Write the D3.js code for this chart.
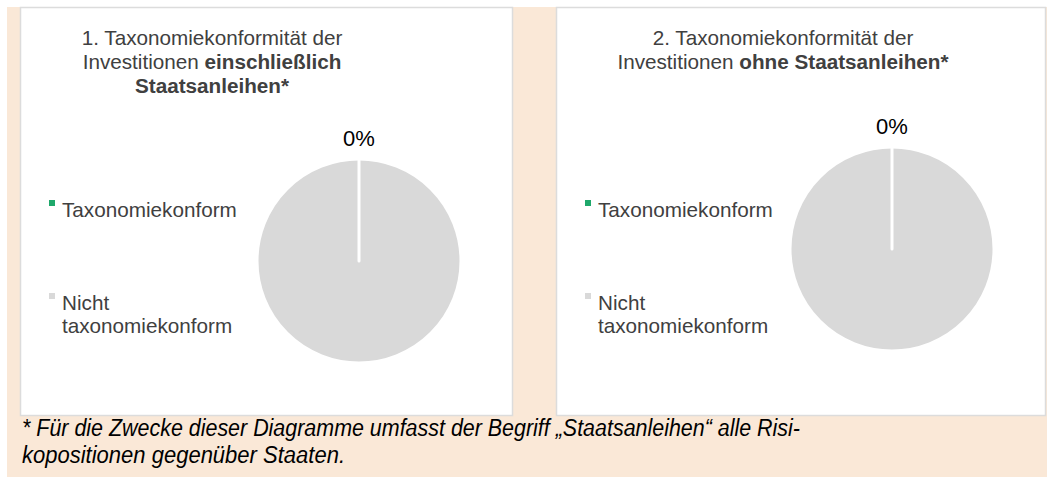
<!DOCTYPE html>
<html>
<head>
<meta charset="utf-8">
<script src="https://cdn.jsdelivr.net/npm/d3@7"></script>
<style>
  body { margin: 0; background: #fff; }
  text { font-family: "Liberation Sans", Arial, sans-serif; fill: #404040; }
</style>
</head>
<body>
<div id="chart"></div>
<script>
// categories and values for both pies
var categories = ["Taxonomiekonform", "Nicht taxonomiekonform"];
var legendLines = [["Taxonomiekonform"], ["Nicht", "taxonomiekonform"]];
var colors = ["#1FA86B", "#D9D9D9"];
var valuesIncl = [0, 100];   // einschließlich Staatsanleihen
var valuesExcl = [0, 100];   // ohne Staatsanleihen
var pctLabels = ["0%", "0%"];

// title lines, [text, bold?]
var titleIncl = [
  [["1. Taxonomiekonformität der", false]],
  [["Investitionen ", false], ["einschließlich", true]],
  [["Staatsanleihen*", true]]
];
var titleExcl = [
  [["2. Taxonomiekonformität der", false]],
  [["Investitionen ", false], ["ohne Staatsanleihen*", true]]
];
var footnote = [
  "* Für die Zwecke dieser Diagramme umfasst der Begriff \u201EStaatsanleihen\u201C alle Risi-",
  "kopositionen gegenüber Staaten."
];
var footnoteWidth = [778, 323];

var width = 1047, height = 477;

var svg = d3.select("#chart").append("svg")
    .attr("width", width)
    .attr("height", height);

// peach background
svg.append("rect")
    .attr("x", 7).attr("y", 7)
    .attr("width", width - 7).attr("height", height - 7)
    .attr("fill", "#FAE8D7");

var panels = [
  { x: 20, w: 492, values: valuesIncl, title: titleIncl, titleX: 192, cx: 339, cy: 261, label: pctLabels[0] },
  { x: 556, w: 489, values: valuesExcl, title: titleExcl, titleX: 227, cy: 249, cx: 336, label: pctLabels[1] }
];

var radius = 102;
var pie = d3.pie().sort(null).value(function(d) { return d; });
var arc = d3.arc().innerRadius(0).outerRadius(radius);
var labelArc = d3.arc().innerRadius(radius + 13).outerRadius(radius + 13);

panels.forEach(function(p) {
  var g = svg.append("g").attr("transform", "translate(" + p.x + ",7)");

  g.append("rect")
      .attr("x", 0.5).attr("y", 0.5)
      .attr("width", p.w).attr("height", 408)
      .attr("fill", "#fff")
      .attr("stroke", "#DCDCDC")
      .attr("stroke-width", 1.5);

  // title
  var t = g.append("text")
      .attr("text-anchor", "middle")
      .style("font-size", "20.7px");
  p.title.forEach(function(line, i) {
    line.forEach(function(part, j) {
      var ts = t.append("tspan")
          .text(part[0])
          .style("font-weight", part[1] ? "bold" : "normal");
      if (j == 0) ts.attr("x", p.titleX).attr("y", 38 + i * 24);
    });
  });

  // pie, zero slice drawn last so its white edge shows
  var slices = pie(p.values);
  var pg = g.append("g").attr("transform", "translate(" + p.cx + "," + (p.cy - 7) + ")");
  pg.selectAll("path")
      .data(slices.slice().reverse())
    .enter().append("path")
      .attr("d", arc)
      .attr("fill", function(d) { return colors[d.index]; })
      .attr("stroke", "#fff")
      .attr("stroke-width", 3)
      .attr("stroke-linejoin", "round");

  pg.append("text")
      .attr("transform", "translate(" + labelArc.centroid(slices[0]) + ")")
      .attr("text-anchor", "middle")
      .style("font-size", "22px")
      .style("fill", "#000")
      .text(p.label);

  // legend
  var legendY = [203, 296];
  categories.forEach(function(c, i) {
    g.append("rect")
        .attr("x", 29).attr("y", legendY[i] - 10)
        .attr("width", 6).attr("height", 6)
        .attr("fill", colors[i]);
    var lt = g.append("text").style("font-size", "20.7px");
    legendLines[i].forEach(function(l, k) {
      lt.append("tspan").attr("x", 42).attr("y", legendY[i] + 7 + k * 23).text(l);
    });
  });
});

// footnote
svg.selectAll(".foot")
    .data(footnote)
  .enter().append("text")
    .attr("class", "foot")
    .attr("x", 22)
    .attr("y", function(d, i) { return 436 + i * 27; })
    .attr("textLength", function(d, i) { return footnoteWidth[i]; })
    .attr("lengthAdjust", "spacingAndGlyphs")
    .style("font-size", "23px")
    .style("font-style", "italic")
    .style("fill", "#000")
    .text(function(d) { return d; });
</script>
</body>
</html>
